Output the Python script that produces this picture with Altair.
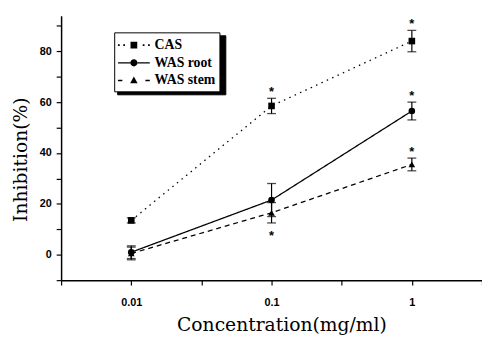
import altair as alt
import pandas as pd

conc = [0.01, 0.1, 1]
series_names = ["CAS", "WAS root", "WAS stem"]
cas_mean = [13.5, 58.5, 84.0]
cas_err = [1.0, 3.0, 4.2]
root_mean = [1.0, 21.5, 56.5]
root_err = [2.5, 6.5, 3.5]
stem_mean = [0.5, 16.5, 35.5]
stem_err = [2.5, 4.0, 2.5]
# significance star: "above", "below" or "" per point
cas_star = ["", "above", "above"]
root_star = ["", "", "above"]
stem_star = ["", "below", "above"]

rows = []
for name, m, e, s in [("CAS", cas_mean, cas_err, cas_star),
                      ("WAS root", root_mean, root_err, root_star),
                      ("WAS stem", stem_mean, stem_err, stem_star)]:
    for c, mv, ev, sv in zip(conc, m, e, s):
        rows.append({"conc": c, "series": name, "mean": mv,
                     "lo": mv - ev, "hi": mv + ev, "star": sv})
df = pd.DataFrame(rows)

xscale = alt.Scale(type="log", domain=[10 ** -2.5, 10 ** 0.5], nice=False)
yscale = alt.Scale(domain=[-10, 94], nice=False, zero=False)
xvals = [10 ** -2.5, 0.01, 10 ** -1.5, 0.1, 10 ** -0.5, 1, 10 ** 0.5]
yvals = [-10, 0, 10, 20, 30, 40, 50, 60, 70, 80, 90]

x_axis = alt.Axis(values=xvals, title="Concentration(mg/ml)",
                  labelExpr="indexof([0.01, 0.1, 1], datum.value) >= 0 ? format(datum.value, '~g') : ''",
                  tickSize=5, labelPadding=12, titleX=224, titleY=36)
y_axis = alt.Axis(values=yvals, title="Inhibition(%)",
                  labelExpr="indexof([0, 20, 40, 60, 80], datum.value) >= 0 ? format(datum.value, 'd') : ''",
                  tickSize=5, labelPadding=5, titleX=-31, titleY=146)

base = alt.Chart(df)


def X():
    return alt.X("conc:Q", scale=xscale, axis=x_axis)


def Y(field):
    return alt.Y(f"{field}:Q", scale=yscale, axis=y_axis)


dash_scale = alt.Scale(domain=series_names, range=[[1.5, 4.5], [1, 0], [5, 4]])
lines = base.mark_line(color="black", strokeWidth=1.3).encode(
    x=X(), y=Y("mean"),
    strokeDash=alt.StrokeDash("series:N", scale=dash_scale, legend=None),
    detail="series:N")

rules = base.mark_rule(color="black", strokeWidth=1.2).encode(
    x=X(), y=Y("lo"), y2="hi:Q")
caps_lo = base.mark_tick(color="black", orient="horizontal", size=9, thickness=1.3).encode(
    x=X(), y=Y("lo"))
caps_hi = base.mark_tick(color="black", orient="horizontal", size=9, thickness=1.3).encode(
    x=X(), y=Y("hi"))

shape_scale = alt.Scale(domain=series_names, range=["square", "circle", "triangle-up"])
points = base.mark_point(filled=True, color="black", opacity=1, size=45).encode(
    x=X(), y=Y("mean"),
    shape=alt.Shape("series:N", scale=shape_scale, legend=None))

stars_up = base.transform_filter("datum.star == 'above'").mark_text(
    text="*", font="Liberation Sans", fontSize=13, fontWeight="bold", dy=-6, baseline="middle").encode(
    x=X(), y=Y("hi"))
stars_dn = base.transform_filter("datum.star == 'below'").mark_text(
    text="*", font="Liberation Sans", fontSize=13, fontWeight="bold", dy=13, baseline="middle").encode(
    x=X(), y=Y("lo"))

# legend symbols: path units scaled by 9 px (symbolSize 324)
sq = "M-0.38,-0.38H0.38V0.38H-0.38Z"
dot = lambda x: f"M{x-0.1},-0.1H{x+0.1}V0.1H{x-0.1}Z"
cas_path = sq + dot(-1.7) + dot(-1.1) + dot(1.1) + dot(1.7)
circ = "M0.4,0A0.4,0.4 0 1,1 -0.4,0A0.4,0.4 0 1,1 0.4,0Z"
root_path = "M-1.8,-0.08H-0.4V0.08H-1.8Z" + circ + "M0.4,-0.08H1.8V0.08H0.4Z"
tri = "M0,-0.45L0.42,0.3H-0.42Z"
stem_path = "M-1.8,-0.08H-1.3V0.08H-1.8Z" + tri + "M1.3,-0.08H1.8V0.08H1.3Z"


def legend_layer(lx, ly, fill, label_expr, label_offset, title_name):
    return base.transform_filter("false").mark_point(filled=True, color="black", opacity=1).encode(
        x=X(), y=Y("mean"),
        shape=alt.Shape("series:N", title=title_name,
                        scale=alt.Scale(domain=series_names, range=[cas_path, root_path, stem_path]),
                        legend=alt.Legend(title=None, orient="none", legendX=lx, legendY=ly,
                                          symbolSize=324, symbolStrokeWidth=0, symbolFillColor="black",
                                          symbolOffset=7,
                                          labelFont="Liberation Serif", labelFontSize=14,
                                          labelFontWeight="bold", labelOffset=label_offset,
                                          labelColor="black", labelExpr=label_expr,
                                          rowPadding=2, padding=4,
                                          strokeColor="black", fillColor=fill)))


shadow = legend_layer(57, 20, "black", "''", 77, "s1")
legend = legend_layer(54, 17, "white", "datum.label", 12, "s2")

chart = alt.layer(lines, rules, caps_lo, caps_hi, points, stars_up, stars_dn, shadow, legend).resolve_scale(
    shape="independent").properties(
    width=428, height=269,
    autosize=alt.AutoSizeParams(type="none"),
    padding={"left": 54, "top": 5, "right": 0, "bottom": 54},
).configure_view(stroke=None).configure_axis(
    grid=False, domainColor="black", domainWidth=1.5, tickColor="black", tickWidth=1.2,
    labelFont="Liberation Sans", labelFontWeight="bold", labelFontSize=11, labelColor="black",
    titleFont="DejaVu Serif", titleFontWeight="normal", titleFontSize=19, titleColor="black")

chart.save("out.html", embed_options={"renderer": "svg", "actions": False})
